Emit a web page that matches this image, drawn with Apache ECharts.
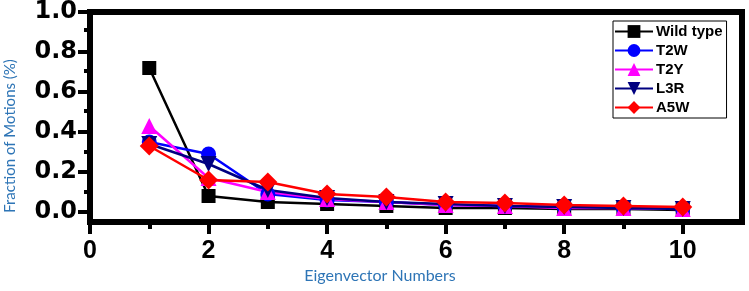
<!DOCTYPE html>
<html>
<head>
<meta charset="utf-8">
<script src="https://cdn.jsdelivr.net/npm/echarts@6/dist/echarts.min.js"></script>
<style>
html,body{margin:0;padding:0;background:#fff;}
#chart{width:749px;height:291px;}
</style>
</head>
<body>
<div id="chart"></div>
<script>
// eigenvector index on the x axis
var eigenNums = [1, 2, 3, 4, 5, 6, 7, 8, 9, 10];

// fraction of motions per system
var wildType = [0.72, 0.08, 0.05, 0.04, 0.03, 0.02, 0.02, 0.015, 0.015, 0.01];
var t2w      = [0.35, 0.29, 0.09, 0.06, 0.05, 0.035, 0.03, 0.025, 0.02, 0.015];
var t2y      = [0.43, 0.17, 0.10, 0.065, 0.05, 0.035, 0.03, 0.02, 0.02, 0.015];
var l3r      = [0.34, 0.24, 0.11, 0.07, 0.05, 0.04, 0.03, 0.025, 0.02, 0.015];
var a5w      = [0.33, 0.16, 0.15, 0.09, 0.075, 0.05, 0.045, 0.035, 0.03, 0.025];

var xMajor = [0, 2, 4, 6, 8, 10];
var xMinor = [1, 3, 5, 7, 9];
var yMajor = [0, 0.2, 0.4, 0.6, 0.8, 1.0];
var yMinor = [0.1, 0.3, 0.5, 0.7, 0.9];

var chart = echarts.init(document.getElementById('chart'));

function pairs(ys) {
    return eigenNums.map(function (x, i) { return [x, ys[i]]; });
}

function mkSeries(name, ys, color, symbol, size, rotate) {
    return {
        name: name,
        type: 'line',
        xAxisIndex: 0,
        yAxisIndex: 0,
        data: pairs(ys),
        symbol: symbol,
        symbolSize: size,
        symbolRotate: rotate || 0,
        lineStyle: { color: color, width: 2.5 },
        itemStyle: { color: color },
        z: 3
    };
}

var gridBox = { left: 90, right: 7, top: 10, bottom: 69 };

var option = {
    animation: false,
    backgroundColor: '#fff',
    grid: [
        { left: gridBox.left, right: gridBox.right, top: gridBox.top, bottom: gridBox.bottom,
          show: true, borderColor: '#000', borderWidth: 6, backgroundColor: 'transparent' },
        { left: gridBox.left, right: gridBox.right, top: gridBox.top, bottom: gridBox.bottom }
    ],
    legend: {
        orient: 'vertical',
        left: 613,
        top: 21,
        padding: [3, 4, 3, 1],
        itemWidth: 38,
        itemHeight: 16,
        itemGap: 4,
        borderColor: '#000',
        borderWidth: 1,
        backgroundColor: '#fff',
        textStyle: { fontFamily: 'Liberation Sans', fontWeight: 'bold', fontSize: 15, color: '#000', padding: [0, 0, 0, -2] },
        data: ['Wild type', 'T2W', 'T2Y', 'L3R', 'A5W']
    },
    xAxis: [
        {
            gridIndex: 0, type: 'value', min: 0, max: 11, position: 'bottom',
            splitLine: { show: false },
            axisLine: { onZero: false, lineStyle: { color: '#000', width: 6 } },
            axisTick: { customValues: xMajor, length: 12, lineStyle: { color: '#000', width: 4 } },
            axisLabel: {
                customValues: xMajor, margin: 17,
                fontFamily: 'Liberation Sans', fontWeight: 'bold', fontSize: 25, color: '#000'
            }
        },
        {
            gridIndex: 1, type: 'value', min: 0, max: 11, position: 'bottom',
            splitLine: { show: false },
            axisLine: { show: false, onZero: false },
            axisTick: { customValues: xMinor, length: 7, lineStyle: { color: '#000', width: 4 } },
            axisLabel: { show: false }
        }
    ],
    yAxis: [
        {
            gridIndex: 0, type: 'value', min: -0.05, max: 1.0, position: 'left',
            splitLine: { show: false },
            axisLine: { onZero: false, lineStyle: { color: '#000', width: 6 } },
            axisTick: { customValues: yMajor, length: 12, lineStyle: { color: '#000', width: 4 } },
            axisLabel: {
                customValues: yMajor, margin: 13,
                formatter: function (v) { return v.toFixed(1); },
                fontFamily: 'DejaVu Sans', fontWeight: 'bold', fontSize: 24, color: '#000'
            }
        },
        {
            gridIndex: 1, type: 'value', min: -0.05, max: 1.0, position: 'left',
            splitLine: { show: false },
            axisLine: { show: false, onZero: false },
            axisTick: { customValues: yMinor, length: 6, lineStyle: { color: '#000', width: 4 } },
            axisLabel: { show: false }
        }
    ],
    graphic: [
        {
            type: 'text', x: 380, y: 276, z: 10,
            style: { text: 'Eigenvector Numbers', fill: '#2e75b6', font: '16px Lato',
                     textAlign: 'center', textVerticalAlign: 'middle' }
        },
        {
            type: 'text', x: 10, y: 136, rotation: Math.PI / 2, z: 10,
            style: { text: 'Fraction of Motions (%)', fill: '#2e75b6', font: '15px Lato',
                     textAlign: 'center', textVerticalAlign: 'middle' }
        }
    ],
    series: [
        mkSeries('Wild type', wildType, '#000000', 'rect', 14),
        mkSeries('T2W', t2w, '#0000ff', 'circle', 15),
        mkSeries('T2Y', t2y, '#ff00ff', 'triangle', 16),
        mkSeries('L3R', l3r, '#000080', 'triangle', 16, 180),
        mkSeries('A5W', a5w, '#ff0000', 'diamond', 19)
    ]
};

chart.setOption(option);
</script>
</body>
</html>
